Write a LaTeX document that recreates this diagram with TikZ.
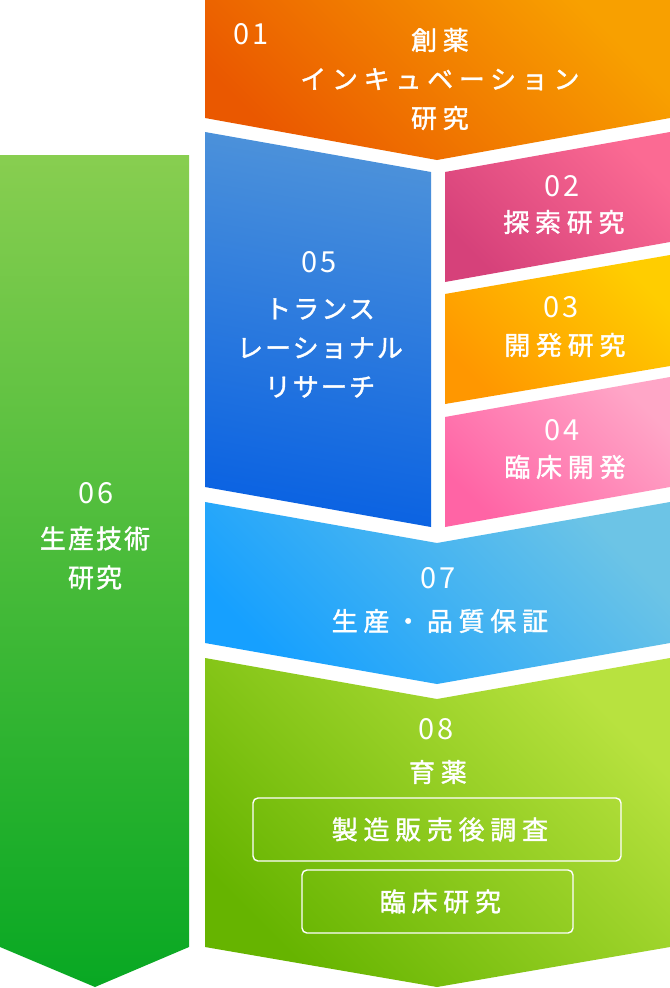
\documentclass[tikz,border=0pt]{standalone}
\usepackage{fontspec}
\setmainfont{Noto Sans CJK JP}
\newfontfamily\jp{Noto Sans CJK JP}[FakeBold=1.4]
\newfontfamily\numf{Noto Sans CJK JP}
\definecolor{oA}{HTML}{EA5800}
\definecolor{oB}{HTML}{F8A000}
\definecolor{bA}{HTML}{0A62E2}
\definecolor{bB}{HTML}{4D92DA}
\definecolor{pA}{HTML}{D6417A}
\definecolor{pB}{HTML}{FB6A93}
\definecolor{yA}{HTML}{FF9700}
\definecolor{yB}{HTML}{FFCD00}
\definecolor{kA}{HTML}{FF64A5}
\definecolor{kB}{HTML}{FFA6C7}
\definecolor{lA}{HTML}{16A0FF}
\definecolor{lB}{HTML}{6CC4E6}
\definecolor{gA}{HTML}{66B400}
\definecolor{gB}{HTML}{B8E23F}
\definecolor{hA}{HTML}{08A823}
\definecolor{hB}{HTML}{88CE50}
\begin{document}
\begin{tikzpicture}[x=1bp,y=-1bp,
  lbl/.style={text=white, inner sep=0pt, align=center, xshift=2.9bp,
    font=\jp\fontsize{26bp}{39bp}\selectfont\addfontfeatures{LetterSpace=22}},
  lbltight/.style={text=white, inner sep=0pt, align=center, xshift=1bp,
    font=\jp\fontsize{26bp}{39bp}\selectfont\addfontfeatures{LetterSpace=8}},
  num/.style={text=white, inner sep=0pt, xshift=1.5bp,
    font=\numf\fontsize{29bp}{30bp}\selectfont\addfontfeatures{LetterSpace=10}},
  subbox/.style={draw=white, line width=1.4bp, rounded corners=5bp, inner sep=0pt}]
\useasboundingbox (0,0) rectangle (670,988);
\fill[white] (0,0) rectangle (670,988);
% 01
\shade[top color=oB, bottom color=oA, shading angle=-45]
  (205,0) -- (670,0) -- (670,118) -- (437,160) -- (205,118) -- cycle;
% 05
\shade[top color=bB, bottom color=bA, shading angle=-10]
  (205,132) -- (431,172) -- (431,527) -- (205,487) -- cycle;
% 02
\shade[top color=pB, bottom color=pA, shading angle=-45]
  (445,172) -- (670,132) -- (670,242) -- (445,282) -- cycle;
% 03
\shade[top color=yB, bottom color=yA, shading angle=-45]
  (445,294) -- (670,255) -- (670,366) -- (445,404) -- cycle;
% 04
\shade[top color=kB, bottom color=kA, shading angle=-45]
  (445,417) -- (670,377) -- (670,487) -- (445,527) -- cycle;
% 07
\shade[top color=lB, bottom color=lA, shading angle=-45]
  (205,502) -- (437,543) -- (670,502) -- (670,643) -- (437,684) -- (205,643) -- cycle;
% 08
\shade[top color=gB, bottom color=gA, shading angle=-45]
  (205,658) -- (437,699) -- (670,658) -- (670,947) -- (437,987) -- (205,947) -- cycle;
% 06
\shade[top color=hB, bottom color=hA]
  (0,155) -- (189,155) -- (189,947) -- (95,987) -- (0,947) -- cycle;

% texts
\node[num] (n01) at (250,34) {01};
\node[lbl] (t01) at (437,79) {創薬\\インキュベーション\\研究};
\node[num] (n02) at (561,186) {02};
\node[lbl] (t02) at (561,222) {探索研究};
\node[num] (n03) at (560,307) {03};
\node[lbl] (t03) at (562,345) {開発研究};
\node[num] (n04) at (561,430) {04};
\node[lbl] (t04) at (562,467) {臨床開発};
\node[num] (n05) at (318,262) {05};
\node[lbltight] (t05) at (319,348) {トランス\\レーショナル\\リサーチ};
\node[num] (n06) at (95,493) {06};
\node[lbltight] (t06) at (94,558) {生産技術\\研究};
\node[num] (n07) at (437,578) {07};
\node[lbl] (t07) at (437,621) {生産・品質保証};
\node[num] (n08) at (435,729) {08};
\node[lbl] (t08) at (435,772) {育薬};
\node[subbox, minimum width=368bp, minimum height=63bp] (b1) at (437,829.5) {};
\node[lbl] (t81) at (b1.center) {製造販売後調査};
\node[subbox, minimum width=271bp, minimum height=63bp] (b2) at (437.5,901.5) {};
\node[lbl] (t82) at (b2.center) {臨床研究};
\end{tikzpicture}
\end{document}
